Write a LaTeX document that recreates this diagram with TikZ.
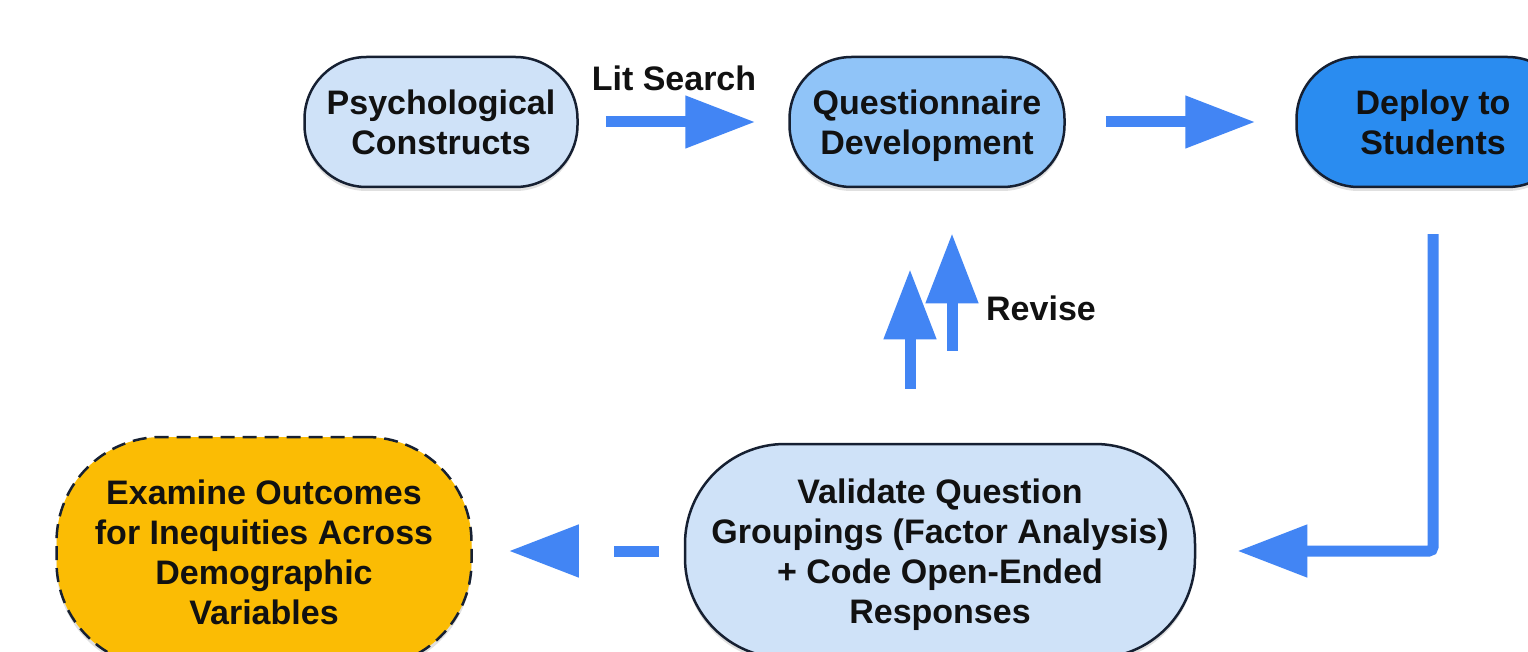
\documentclass[tikz,border=0pt]{standalone}
\usepackage{fontspec}
\setmainfont{Liberation Sans}
\usetikzlibrary{arrows.meta,shadows}

\definecolor{paleblue}{RGB}{207,226,248}
\definecolor{midblue}{RGB}{144,196,248}
\definecolor{brightblue}{RGB}{42,140,240}
\definecolor{amber}{RGB}{251,188,4}
\definecolor{arrowblue}{RGB}{66,133,244}
\definecolor{outline}{RGB}{22,32,50}
\definecolor{ink}{RGB}{17,17,17}

\begin{document}
\begin{tikzpicture}[x=1pt,y=-1pt,
  stage/.style={draw=outline, line width=2.5pt, align=center, text=ink,
    font=\fontsize{34}{40}\selectfont\bfseries, inner sep=0pt,
    execute at begin node={\rule{0pt}{32pt}},
    text depth=0pt,
    drop shadow={shadow xshift=0pt, shadow yshift=-4pt, opacity=0.12, fill=black}},
  flow/.style={draw=arrowblue, line width=11pt, line cap=butt,
    -{Triangle[length=70pt,width=50pt]}, arrowblue},
  lbl/.style={text=ink, font=\fontsize{34}{40}\selectfont\bfseries, inner sep=0pt}
]
\clip (0,0) rectangle (1528,652);
\fill[white] (0,0) rectangle (1528,652);

% process stages
\node[stage, fill=paleblue, minimum width=273pt, minimum height=130pt,
  rounded corners=62pt] (psych) at (441,122) {Psychological\\Constructs};
\node[stage, fill=midblue, minimum width=275pt, minimum height=130pt,
  rounded corners=62pt] (quest) at (927,122) {Questionnaire\\Development};
\node[stage, fill=brightblue, minimum width=273pt, minimum height=130pt,
  rounded corners=62pt] (deploy) at (1433,122) {Deploy to\\Students};
\node[stage, fill=paleblue, minimum width=510pt, minimum height=214pt,
  rounded corners=100pt] (validate) at (940,551)
  {Validate Question\\Groupings (Factor Analysis)\\+ Code Open-Ended\\Responses};
\node[stage, fill=amber, dash pattern=on 14pt off 8pt, minimum width=415pt,
  minimum height=230pt, rounded corners=105pt] (examine) at (264,552)
  {Examine Outcomes\\for Inequities Across\\Demographic\\Variables};

% labels
\node[lbl] (lit) at (674,78) {Lit Search};
\node[lbl] (revise) at (1041,308) {Revise};

% connectors
\draw[flow, shorten <=27pt, shorten >=33pt] (psych.east) -- (quest.west);
\draw[flow, shorten <=40pt, shorten >=40pt] (quest.east) -- (deploy.west);
\draw[flow, rounded corners=4pt, shorten <=46pt, shorten >=41pt]
  (deploy.south) |- (validate.east);
\draw[flow, dash pattern=on 45pt off 35pt, shorten <=25pt, shorten >=36pt]
  (validate.west) -- (validate.west -| examine.east);

\coordinate (revA) at ([xshift=-30pt]validate.north);
\coordinate (revB) at ([xshift=12pt]validate.north);
\draw[flow, shorten <=54pt, shorten >=81pt] (revA) -- (revA |- quest.south);
\draw[flow, shorten <=92pt, shorten >=45pt] (revB) -- (revB |- quest.south);
\end{tikzpicture}
\end{document}
